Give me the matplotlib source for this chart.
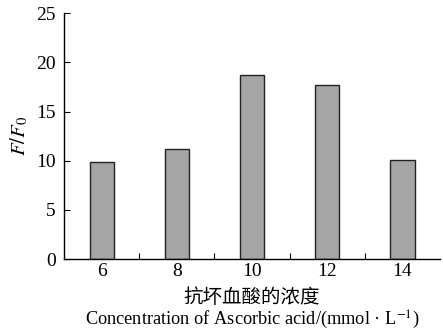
import matplotlib
matplotlib.use('Agg')
import matplotlib.pyplot as plt
import numpy as np

# data
concentration = ['6', '8', '10', '12', '14']
ratio = [9.9, 11.2, 18.7, 17.7, 10.1]

plt.rcParams['font.family'] = ['Liberation Serif', 'DejaVu Serif']
plt.rcParams['mathtext.fontset'] = 'stix'

fig = plt.figure(figsize=(4.43, 3.30), dpi=100)
ax = fig.add_axes([0.1445, 0.215, 0.849, 0.745])

x = np.arange(len(concentration))
ax.bar(x, ratio, width=0.32, color='#a6a4a7', edgecolor='#222222', linewidth=1.0)

ax.set_xlim(-0.5, 4.5)
ax.set_ylim(0, 25)
ax.set_yticks([0, 5, 10, 15, 20, 25])
ax.set_xticks(x)
ax.set_xticklabels(concentration)
ax.set_xticks(x[:-1] + 0.5, minor=True)

ax.tick_params(axis='x', which='major', length=0, labelsize=14, pad=3)
ax.tick_params(axis='x', which='minor', direction='in', length=4, width=0.8)
ax.tick_params(axis='y', direction='in', length=4, width=0.8, labelsize=14, pad=6)

ax.spines['top'].set_visible(False)
ax.spines['right'].set_visible(False)
ax.spines['left'].set_linewidth(1.0)
ax.spines['bottom'].set_linewidth(1.0)

ax.set_ylabel(r'$F/F_{\mathrm{0}}$', fontsize=15, labelpad=4)

ax.text(0.5, -0.155, '抗坏血酸的浓度', transform=ax.transAxes,
        ha='center', va='center', fontsize=14, family=['Noto Sans CJK SC', 'DejaVu Sans'])
ax.text(0.5, -0.248, 'Concentration of Ascorbic acid/(mmol · L$^{-1}$)', transform=ax.transAxes,
        ha='center', va='center', fontsize=13.2)

fig.savefig('out.png', dpi=100)
